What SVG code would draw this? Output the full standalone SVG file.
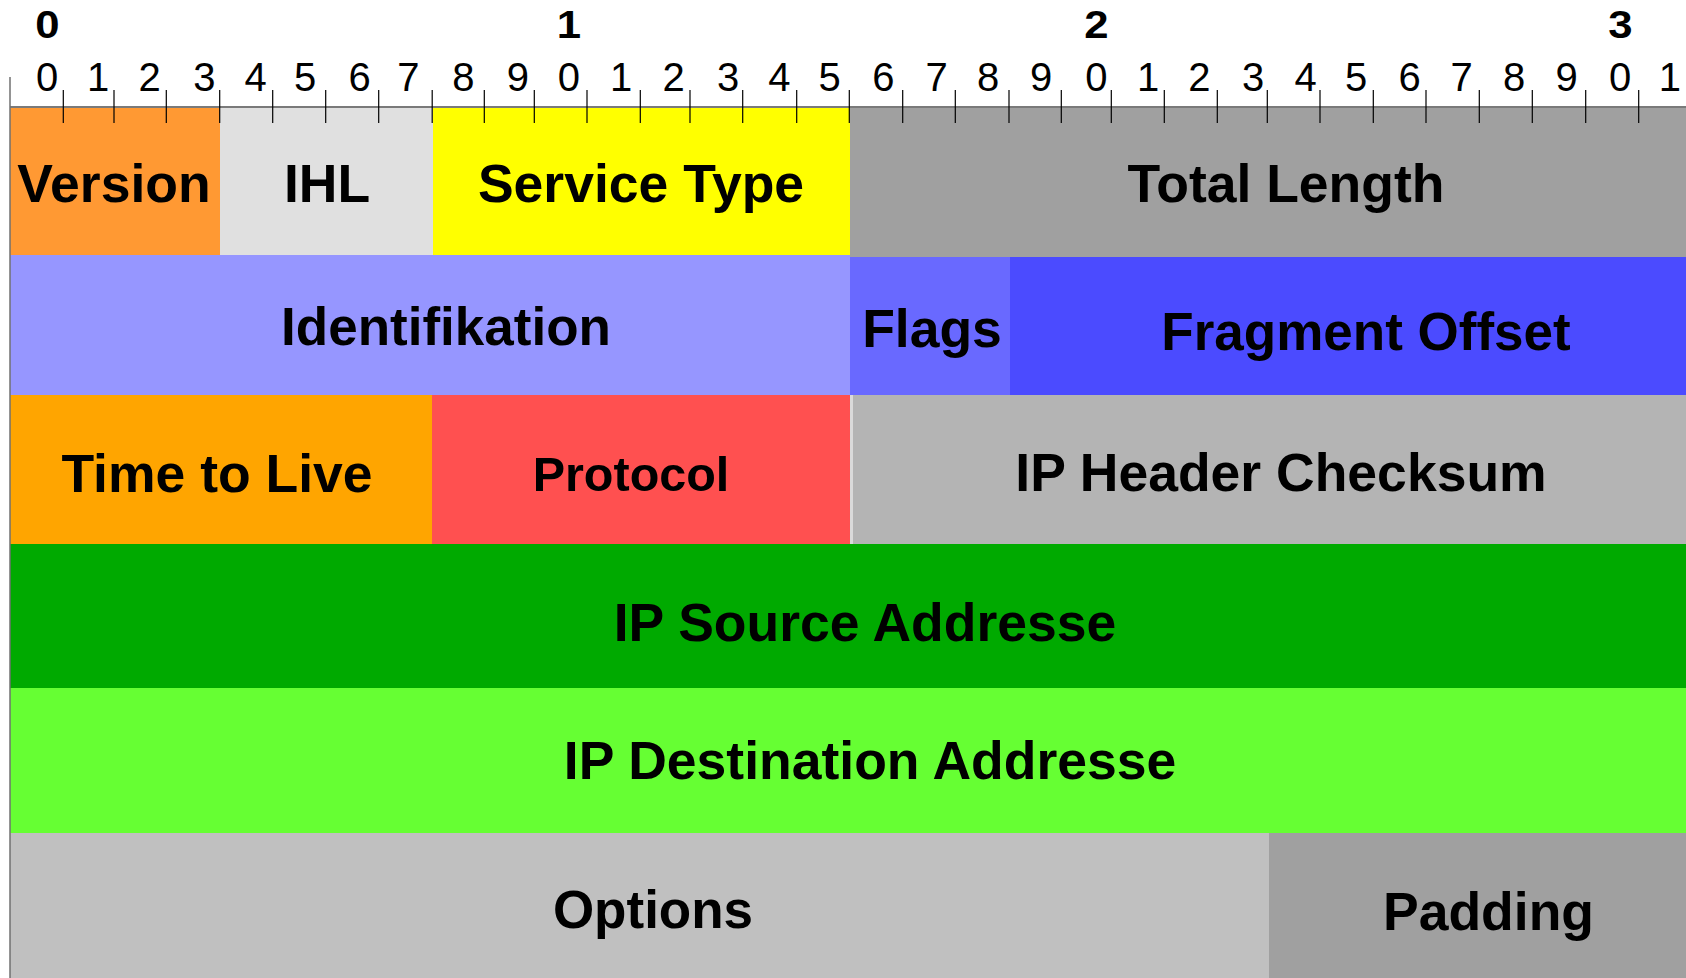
<svg xmlns="http://www.w3.org/2000/svg" width="1686" height="978" viewBox="0 0 1686 978">
<style>
.lbl{font-family:"Liberation Sans",Arial,sans-serif;font-weight:bold;font-size:53.5px;fill:#000;text-anchor:middle}
.dig{font-family:"Liberation Sans",Arial,sans-serif;font-size:40px;fill:#000;text-anchor:middle}
.hdr{font-family:"Liberation Sans",Arial,sans-serif;font-weight:bold;font-size:38px;fill:#000;text-anchor:middle}
.tick{stroke:#000;stroke-width:1.2}
</style>
<rect x="0" y="0" width="1686" height="978" fill="#fff"/>
<g id="version"><rect x="10" y="107" width="210" height="148" fill="#FF9933"/><text class="lbl" x="114" y="202">Version</text></g>
<g id="ihl"><rect x="220" y="107" width="213" height="148" fill="#E0E0E0"/><text class="lbl" x="327" y="202">IHL</text></g>
<g id="service-type"><rect x="433" y="107" width="417" height="148" fill="#FFFF00"/><text class="lbl" x="641" y="202">Service Type</text></g>
<g id="total-length"><rect x="850" y="107" width="836" height="150" fill="#A0A0A0"/><text class="lbl" x="1286" y="202">Total Length</text></g>
<g id="identifikation"><rect x="10" y="255" width="840" height="140" fill="#9696FF"/><text class="lbl" x="446" y="345" style="font-size:53px">Identifikation</text></g>
<g id="flags"><rect x="850" y="257" width="160" height="138" fill="#6969FF"/><text class="lbl" x="932" y="347">Flags</text></g>
<g id="fragment-offset"><rect x="1010" y="257" width="676" height="138" fill="#4B4BFF"/><text class="lbl" x="1366" y="350" style="font-size:53px">Fragment Offset</text></g>
<g id="time-to-live"><rect x="10" y="395" width="422" height="149" fill="#FFA500"/><text class="lbl" x="217" y="492">Time to Live</text></g>
<g id="protocol"><rect x="432" y="395" width="418" height="149" fill="#FF5050"/><text class="lbl" x="631" y="491" style="font-size:48.5px">Protocol</text></g>
<g id="ip-header-checksum"><rect x="850" y="395" width="836" height="149" fill="#B4B4B4"/><rect x="850" y="395" width="3" height="149" fill="#DADADA"/><text class="lbl" x="1281" y="491">IP Header Checksum</text></g>
<g id="ip-source-addresse"><rect x="10" y="544" width="1676" height="144" fill="#00AA00"/><text class="lbl" x="865" y="641">IP Source Addresse</text></g>
<g id="ip-destination-addresse"><rect x="10" y="688" width="1676" height="145" fill="#66FF33"/><text class="lbl" x="870" y="779">IP Destination Addresse</text></g>
<g id="options"><rect x="10" y="833" width="1259" height="145" fill="#C0C0C0"/><text class="lbl" x="653" y="928" style="font-size:53px">Options</text></g>
<g id="padding"><rect x="1269" y="833" width="417" height="145" fill="#A0A0A0"/><text class="lbl" x="1488.5" y="930">Padding</text></g>
<g id="ruler">
<line x1="10" y1="107" x2="1686" y2="107" stroke="#7A7A7A" stroke-width="2"/>
<line x1="10" y1="77" x2="10" y2="978" stroke="#707070" stroke-width="1.5"/>
<g class="tick">
<line x1="63.3" y1="90" x2="63.3" y2="123"/><line x1="114" y1="90" x2="114" y2="123"/><line x1="166.3" y1="90" x2="166.3" y2="123"/><line x1="219.7" y1="90" x2="219.7" y2="123"/><line x1="272.7" y1="90" x2="272.7" y2="123"/><line x1="325.7" y1="90" x2="325.7" y2="123"/><line x1="378.7" y1="90" x2="378.7" y2="123"/><line x1="432.2" y1="90" x2="432.2" y2="123"/><line x1="484.3" y1="90" x2="484.3" y2="123"/><line x1="534.3" y1="90" x2="534.3" y2="123"/><line x1="587" y1="90" x2="587" y2="123"/><line x1="640.3" y1="90" x2="640.3" y2="123"/><line x1="690" y1="90" x2="690" y2="123"/><line x1="742.7" y1="90" x2="742.7" y2="123"/><line x1="796.7" y1="90" x2="796.7" y2="123"/><line x1="849.3" y1="90" x2="849.3" y2="123"/><line x1="902.7" y1="90" x2="902.7" y2="123"/><line x1="955.3" y1="90" x2="955.3" y2="123"/><line x1="1009" y1="90" x2="1009" y2="123"/><line x1="1061.3" y1="90" x2="1061.3" y2="123"/><line x1="1111.3" y1="90" x2="1111.3" y2="123"/><line x1="1164.3" y1="90" x2="1164.3" y2="123"/><line x1="1217.3" y1="90" x2="1217.3" y2="123"/><line x1="1267.3" y1="90" x2="1267.3" y2="123"/><line x1="1320" y1="90" x2="1320" y2="123"/><line x1="1373.3" y1="90" x2="1373.3" y2="123"/><line x1="1426" y1="90" x2="1426" y2="123"/><line x1="1479.3" y1="90" x2="1479.3" y2="123"/><line x1="1532.3" y1="90" x2="1532.3" y2="123"/><line x1="1585.7" y1="90" x2="1585.7" y2="123"/><line x1="1638.7" y1="90" x2="1638.7" y2="123"/>
</g>
<text class="hdr" transform="translate(47.5,38) scale(1.15,1)">0</text>
<text class="hdr" transform="translate(569,38) scale(1.15,1)">1</text>
<text class="hdr" transform="translate(1096.5,38) scale(1.15,1)">2</text>
<text class="hdr" transform="translate(1620.5,38) scale(1.15,1)">3</text>
<text class="dig" x="47" y="91">0</text><text class="dig" x="98.2" y="91">1</text><text class="dig" x="149.7" y="91">2</text><text class="dig" x="204.4" y="91">3</text><text class="dig" x="255.6" y="91">4</text><text class="dig" x="305" y="91">5</text><text class="dig" x="359.7" y="91">6</text><text class="dig" x="408.3" y="91">7</text><text class="dig" x="463.3" y="91">8</text><text class="dig" x="517.8" y="91">9</text>
<text class="dig" x="568.8" y="91">0</text><text class="dig" x="621" y="91">1</text><text class="dig" x="673.5" y="91">2</text><text class="dig" x="728" y="91">3</text><text class="dig" x="779.4" y="91">4</text><text class="dig" x="829.7" y="91">5</text><text class="dig" x="883.3" y="91">6</text><text class="dig" x="936.7" y="91">7</text><text class="dig" x="988" y="91">8</text><text class="dig" x="1041.2" y="91">9</text>
<text class="dig" x="1096.3" y="91">0</text><text class="dig" x="1148.2" y="91">1</text><text class="dig" x="1199.3" y="91">2</text><text class="dig" x="1253" y="91">3</text><text class="dig" x="1305.6" y="91">4</text><text class="dig" x="1356" y="91">5</text><text class="dig" x="1409.7" y="91">6</text><text class="dig" x="1461.7" y="91">7</text><text class="dig" x="1514" y="91">8</text><text class="dig" x="1566.7" y="91">9</text>
<text class="dig" x="1620" y="91">0</text><text class="dig" x="1669.8" y="91">1</text>
</g>
</svg>
